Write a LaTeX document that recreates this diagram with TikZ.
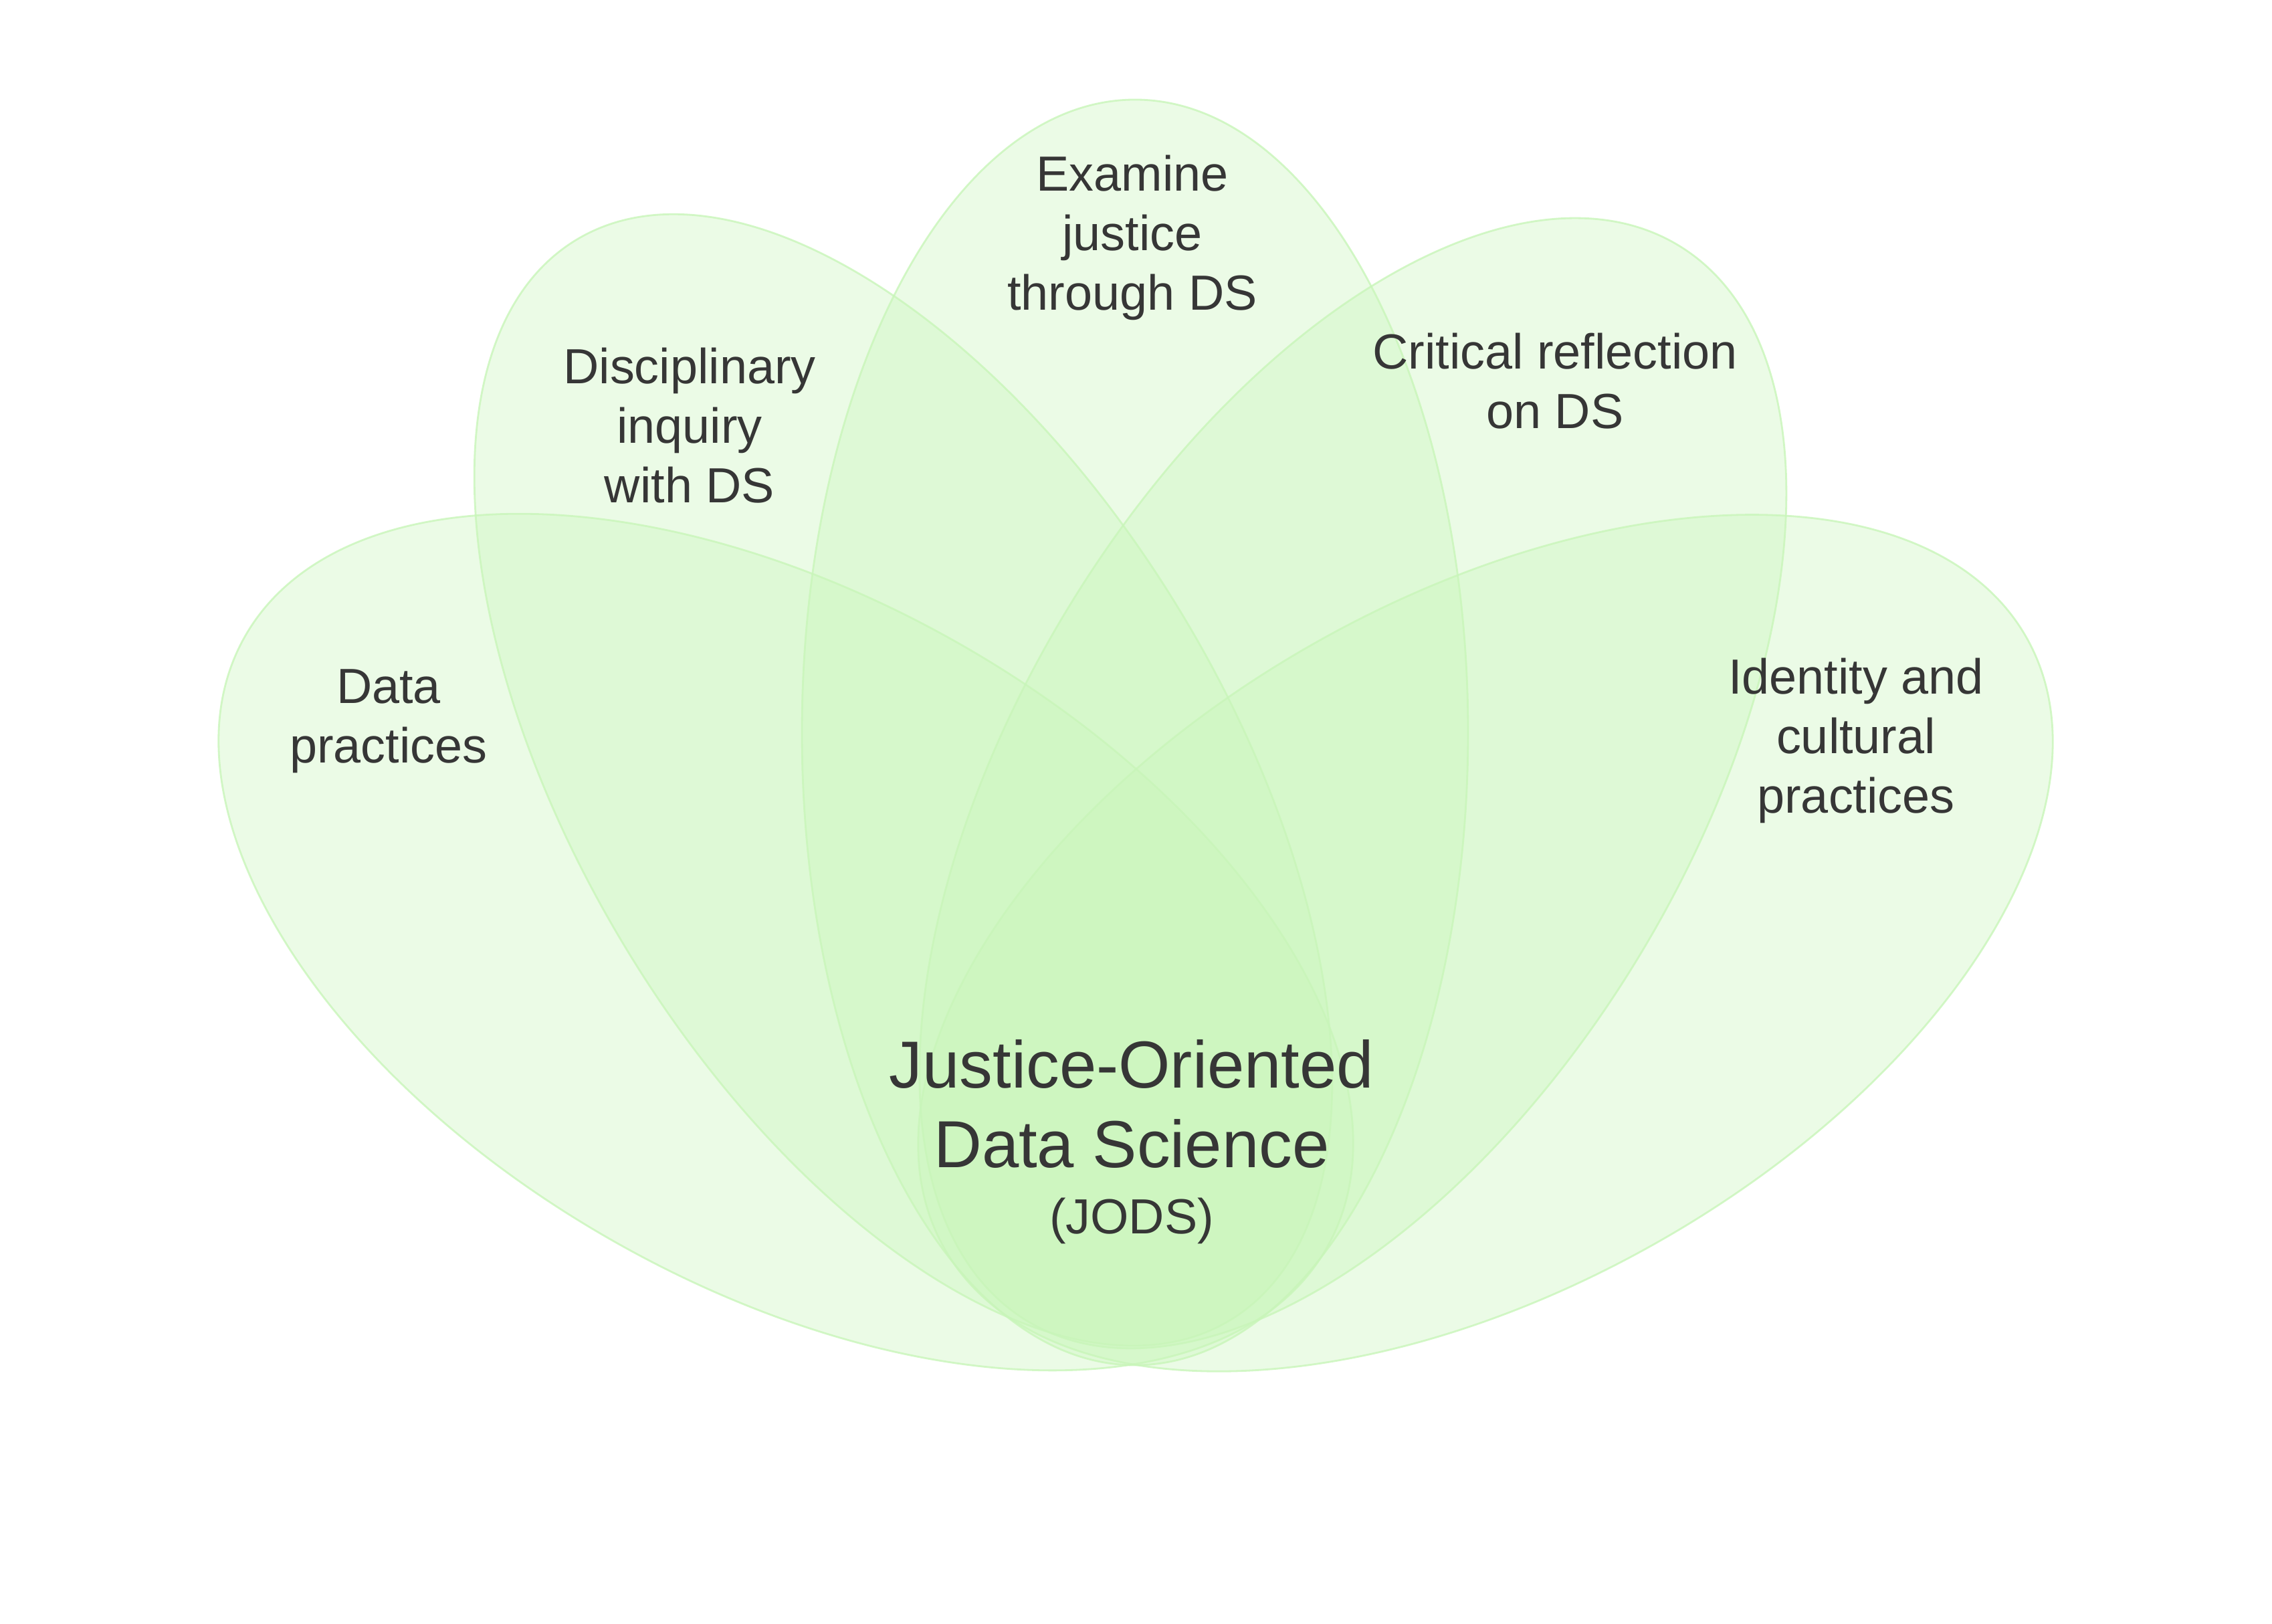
\documentclass[tikz,border=0pt]{standalone}
\usepackage{fontspec}
\setmainfont{Liberation Sans}
\definecolor{petalgreen}{RGB}{200,245,185}
\definecolor{labelgray}{RGB}{54,54,54}
\begin{document}
\begin{tikzpicture}[
	petal/.style={fill=petalgreen, fill opacity=0.36, draw=petalgreen, draw opacity=0.8, line width=0.8pt},
	lbl/.style={anchor=north, inner sep=0pt, align=center, text=labelgray, font=\fontsize{21}{25.3}\selectfont},
	title/.style={anchor=north, inner sep=0pt, align=center, text=labelgray, font=\fontsize{28.3}{33.9}\selectfont}]
	\useasboundingbox (0,0) rectangle (33.97,24.27);
	% Petal centres
	\coordinate (pexam) at (16.97,13.32);
	\coordinate (pdisc) at (13.505,12.61);
	\coordinate (pdata) at (11.75,10.185);
	\coordinate (pcrit) at (20.23,12.56);
	\coordinate (pident) at (22.21,10.17);
	% Petals
	\draw [petal, rotate around={60.6:(pdata)}] (pdata) ellipse [x radius=5.16, y radius=9.29];
	\draw [petal, rotate around={31.2:(pdisc)}] (pdisc) ellipse [x radius=4.85, y radius=9.44];
	\draw [petal] (pexam) ellipse [x radius=4.98, y radius=9.46];
	\draw [petal, rotate around={-31.2:(pcrit)}] (pcrit) ellipse [x radius=5, y radius=9.4];
	\draw [petal, rotate around={-60.6:(pident)}] (pident) ellipse [x radius=5.16, y radius=9.29];
	
	% Petal labels
	\node [lbl] (examine) at (16.93,21.96) {Examine\\justice\\through DS};
	\node [lbl] (disciplinary) at (10.31,19.08) {Disciplinary\\inquiry\\with DS};
	\node [lbl] (critical) at (23.25,19.30) {Critical reflection\\on DS};
	\node [lbl] (datapract) at (5.81,14.27) {Data\\practices};
	\node [lbl] (identity) at (27.75,14.44) {Identity and\\cultural\\practices};
	
	% Centre
	\node [title] (jods) at (16.92,8.73) {Justice-Oriented\\Data Science};
	\node [lbl, anchor=base] (jodsabbr) at (16.92,5.82) {(JODS)};
\end{tikzpicture}
\end{document}
